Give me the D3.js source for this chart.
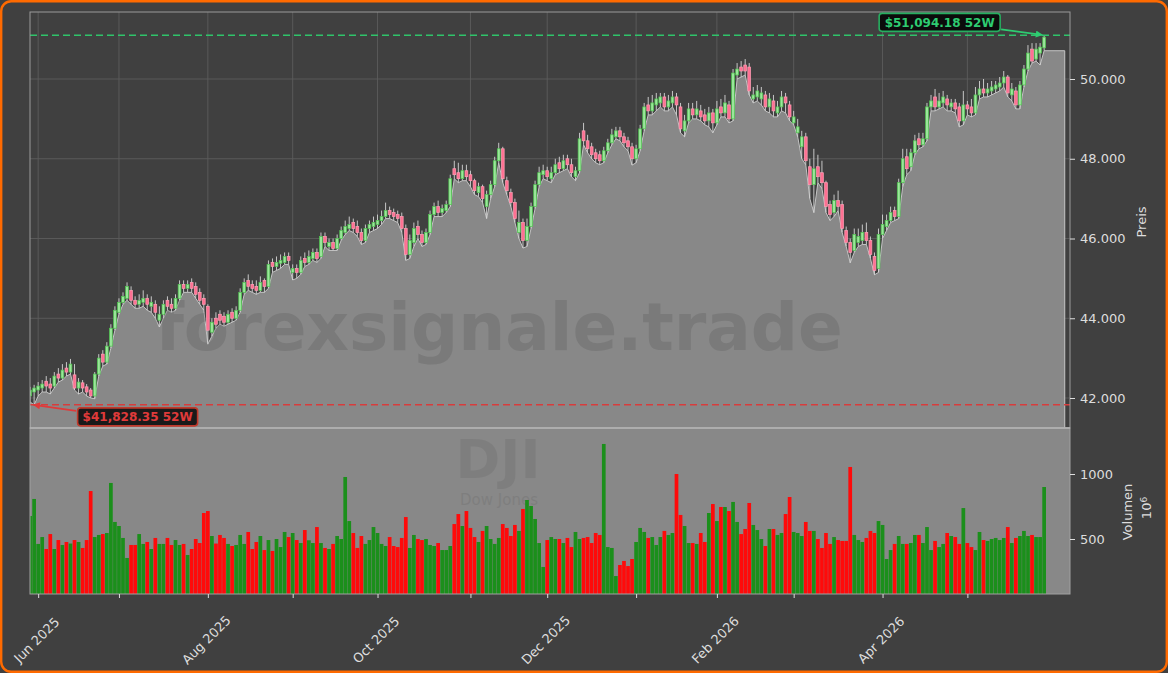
<!DOCTYPE html>
<html><head><meta charset="utf-8">
<script src="https://cdn.jsdelivr.net/npm/d3@7"></script>
<style>
body{margin:0;background:#404040;}
svg text{font-family:"DejaVu Sans",sans-serif;}
</style>
</head><body>
<svg id="c" width="1168" height="673"></svg>
<script>
// ---------------- DATA ----------------
const opens=[42050,42150,42200,42250,42420,42350,42300,42600,42500,42750,42650,42580,42250,42380,42280,42200,42050,42600,43100,42900,
43300,43750,44150,44400,44500,44700,44450,44350,44400,44500,44300,44350,43950,44100,44450,44350,44250,44500,44850,44750,
44900,44800,44650,44500,44300,43650,44000,44100,44050,43900,44150,44000,44200,44650,44950,44850,44800,44700,44950,44800,
45400,45300,45380,45400,45550,45150,45250,45150,45500,45400,45500,45650,45550,46050,45800,45900,45750,46000,46150,46250,
46400,46300,46150,45950,46250,46300,46350,46450,46550,46700,46650,46600,46550,46250,45600,45900,46300,46100,45900,46150,
46600,46800,46650,46700,46850,47750,47650,47500,47700,47600,47450,47150,47300,46800,47100,47350,47950,48250,47450,47150,
46900,46150,46400,45950,46300,46800,47350,47600,47700,47500,47650,47900,47750,48000,47850,47550,47700,48700,48450,48300,
48150,48100,47950,48200,48400,48550,48700,48550,48450,48300,48000,48250,48750,49350,49200,49350,49400,49550,49300,49400,
49550,49300,48700,48950,49250,49100,49200,49100,48950,49150,48900,49300,49150,49350,49000,50100,50300,50350,50300,49500,
49550,49500,49600,49300,49450,49150,49300,49550,49350,48900,48650,48300,48550,47800,47350,47800,47650,47400,46850,46650,
46950,46850,46200,45900,45700,45900,45950,46150,45950,45550,45250,46100,46300,46450,46700,46550,47400,48050,47800,48150,
48500,48350,48500,49300,49550,49300,49400,49500,49300,49400,49300,48950,49350,49300,49150,49600,49750,49650,49700,49750,
49800,49900,50050,49600,49700,49350,49850,50250,50750,50500,50650,50780];
const highs=[42280,42330,42400,42450,42550,42500,42650,42750,42850,42900,42980,42850,42500,42450,42350,42250,42650,43100,43200,43400,
43850,44300,44500,44650,44900,44800,44550,44600,44700,44600,44550,44450,44300,44450,44550,44500,44600,44950,44950,44950,
45000,44900,44750,44600,44350,44000,44150,44200,44150,44200,44250,44300,44750,45000,45100,44950,44950,45050,45000,45450,
45500,45550,45600,45650,45650,45350,45350,45550,45650,45700,45750,45750,46150,46150,46000,46000,46100,46300,46450,46550,
46500,46450,46250,46350,46450,46550,46600,46700,46900,46800,46750,46700,46650,46350,46100,46400,46450,46200,46250,46700,
46900,46950,46850,46950,47600,47950,47900,47850,47850,47700,47500,47400,47350,47200,47450,48050,48400,48300,47550,47250,
47000,46700,46500,46500,46900,47450,47800,47850,47800,47800,48000,48050,48100,48100,48000,47800,48650,48900,48600,48400,
48250,48200,48300,48500,48750,48800,48800,48650,48550,48400,48350,48850,49400,49550,49600,49650,49650,49650,49600,49700,
49650,49400,49100,49400,49400,49450,49350,49250,49300,49250,49450,49500,49600,49450,50250,50400,50450,50500,50400,49800,
49850,49800,49700,49650,49600,49450,49700,49650,49450,49200,49000,48700,48650,48000,48250,48100,47950,47450,46950,47100,
47200,46950,46300,46000,46250,46250,46350,46400,46050,45650,46250,46600,46600,46800,46800,47500,48250,48250,48250,48600,
48650,48650,49400,49600,49750,49650,49700,49600,49500,49500,49400,49700,49450,49500,49800,49950,50000,49900,49950,49950,
50050,50200,50100,49900,49800,49950,50350,50850,50900,50900,50900,51094.18];
const lows=[41900,41828.35,42050,42150,42150,42100,42250,42400,42450,42550,42600,42200,42100,42150,42050,42000,41980,42550,42800,42850,
43250,43700,44100,44350,44450,44350,44250,44250,44300,44200,44150,44000,43780,44000,44200,44150,44200,44450,44650,44650,
44650,44500,44350,44200,43350,43550,43750,43850,43800,43850,43900,43950,44150,44600,44700,44650,44600,44650,44650,44750,
45150,45200,45250,45350,45350,44960,45000,45100,45300,45350,45450,45400,45500,45800,45700,45700,45700,45950,46100,46200,
46150,46050,45850,45900,46150,46200,46250,46350,46500,46500,46450,46400,46150,45450,45500,45800,46000,45800,45850,46100,
46550,46550,46550,46650,46800,47500,47400,47450,47450,47300,47100,47050,46900,46500,47000,47300,47900,47400,47100,46800,
46400,46000,45760,45800,46250,46750,47300,47500,47450,47400,47600,47650,47700,47750,47550,47450,47650,48350,48150,48000,
47900,47850,47900,48150,48350,48500,48450,48300,48200,47840,47900,48200,48700,49100,49100,49200,49300,49200,49200,49300,
49100,48650,48550,48900,49000,49000,48950,48850,48800,48650,48850,49050,49050,48900,48950,50000,50050,50100,49600,49400,
49450,49350,49200,49150,49050,49050,49200,49150,48950,48850,48550,48000,47850,47000,46650,47400,47250,46650,46450,46550,
46700,46150,45800,45390,45650,45800,45850,45850,45500,45090,45150,46000,46200,46400,46450,46500,47300,47600,47700,48100,
48250,48300,48450,49200,49200,49250,49300,49200,49200,49150,48800,48850,49100,49050,49100,49500,49550,49550,49600,49650,
49700,49800,49550,49450,49250,49250,49800,50200,50400,50450,50350,50709];
const closes=[42200,42250,42300,42350,42300,42250,42550,42500,42700,42650,42850,42250,42400,42250,42150,42050,42600,43000,42900,43300,
43750,44200,44400,44550,44800,44450,44350,44450,44500,44350,44400,44150,44100,44350,44300,44250,44500,44850,44750,44850,
44750,44600,44450,44350,43700,43900,43850,43950,43900,44100,44000,44200,44650,44900,44800,44750,44700,44900,44800,45350,
45300,45400,45450,45550,45450,45250,45150,45450,45400,45550,45650,45500,46050,45900,45900,45750,46000,46200,46300,46350,
46250,46150,45950,46250,46350,46400,46450,46550,46700,46600,46550,46500,46250,45600,45950,46250,46100,45900,46150,46600,
46800,46650,46750,46850,47500,47600,47500,47700,47550,47450,47200,47300,47000,47100,47350,47950,48250,47500,47200,46900,
46500,46400,45950,46300,46800,47350,47650,47700,47550,47650,47850,47750,47950,47850,47650,47700,48500,48450,48250,48100,
48000,47950,48200,48400,48600,48700,48550,48400,48300,48000,48250,48750,49300,49200,49400,49500,49550,49300,49450,49550,
49350,48750,48950,49250,49100,49250,49050,48950,49150,48900,49250,49150,49400,49000,50150,50250,50200,50200,49700,49600,
49700,49650,49300,49500,49200,49300,49550,49400,49050,49050,48800,48550,47950,47350,47750,47550,47400,46800,46600,46950,
46800,46250,45900,45650,46100,46050,46150,45950,45600,45200,46100,46350,46450,46650,46550,47400,48000,47750,48150,48450,
48350,48500,49300,49450,49300,49450,49550,49350,49400,49250,48950,49350,49250,49150,49600,49750,49650,49750,49800,49850,
49900,50050,49650,49750,49350,49850,50250,50650,50450,50750,50800,51050];
// volume in millions (10^6)
const volumes=[677,808,462,515,423,538,423,492,454,477,465,492,477,431,492,869,515,531,538,546,
931,631,600,508,354,454,454,538,462,477,423,508,462,462,508,454,492,454,462,377,
423,500,469,700,715,523,465,531,508,462,446,454,531,462,554,423,477,523,415,492,
408,500,438,554,515,546,492,469,569,490,469,592,469,431,423,462,523,500,977,638,
546,431,523,462,492,592,546,462,446,515,446,438,508,669,431,531,500,492,500,454,
446,469,415,415,446,615,692,600,715,585,515,477,562,600,500,462,508,615,585,523,
608,562,731,800,754,654,469,285,492,515,500,500,469,508,438,554,500,508,515,469,
546,531,1231,438,431,215,300,331,292,346,477,585,554,508,515,454,515,562,531,546,
1000,685,600,469,469,462,546,477,700,769,638,746,746,715,785,631,538,577,777,608,
569,500,446,577,577,531,546,692,823,554,546,523,631,562,562,500,431,546,462,515,
492,485,485,1054,531,492,477,508,562,546,638,608,346,415,462,523,462,462,469,531,
531,469,592,415,485,438,462,546,523,515,462,738,469,438,415,554,492,485,500,508,
492,508,592,469,508,523,562,523,531,515,515,900];
const startDate="2025-05-29";
const holidays=["2025-06-19","2025-07-04","2025-09-01","2025-11-27","2025-12-25","2026-01-01","2026-01-19","2026-02-16","2026-04-03","2026-05-25"];
const priceTicks=[42000,44000,46000,48000,50000];
const volumeTicks=[500,1000];
const high52={value:51094.18,label:"$51,094.18 52W"};
const low52={value:41828.35,label:"$41,828.35 52W"};
const watermark="forexsignale.trade";
const symbol="DJI", symbolName="Dow Jones";

// ---------------- LAYOUT ----------------
const W=1168,H=673;
const L=30,R=1070,PT=12,PB=428,VT=428,VB=594;
const n=closes.length;
const svg=d3.select("#c");

// trading dates
const dates=[];
{let d=new Date(startDate+"T00:00:00Z");
 while(dates.length<n){const s=d.toISOString().slice(0,10);const w=d.getUTCDay();
  if(w!==0&&w!==6&&!holidays.includes(s))dates.push(new Date(d));
  d.setUTCDate(d.getUTCDate()+1);}}

const x=d3.scaleLinear().domain([-0.02,257.4]).range([L,R]);
const y=d3.scaleLinear().domain([42000,50000]).range([398,79]);
const yv=d3.scaleLinear().domain([500,1000]).range([539,474]);

// background + border
svg.append("rect").attr("x",1.2).attr("y",1.2).attr("width",W-2.4).attr("height",H-2.4)
  .attr("rx",10).attr("fill","#404040").attr("stroke","#ff6a00").attr("stroke-width",2.4);

const defs=svg.append("defs");
defs.append("clipPath").attr("id","cp").append("rect").attr("x",L).attr("y",PT).attr("width",R-L).attr("height",PB-PT);
defs.append("clipPath").attr("id","cv").append("rect").attr("x",L).attr("y",VT).attr("width",R-L).attr("height",VB-VT);
const mk=(id,col)=>defs.append("marker").attr("id",id).attr("viewBox","0 0 10 10").attr("refX",9).attr("refY",5)
  .attr("markerWidth",9).attr("markerHeight",7).attr("markerUnits","userSpaceOnUse").attr("orient","auto")
  .append("path").attr("d","M0,0L10,5L0,10z").attr("fill",col);
mk("ag","#2ecc71");mk("ar","#e03a3a");

// month ticks
const monthIdx=[];
for(let i=1;i<n;i++){if(dates[i].getUTCMonth()!==dates[i-1].getUTCMonth())monthIdx.push(i);}
const fmtM=d3.utcFormat("%b %Y");

// ---------- price panel ----------
const gp=svg.append("g").attr("clip-path","url(#cp)");
gp.selectAll(".hg").data(priceTicks).join("line").attr("x1",L).attr("x2",R)
  .attr("y1",d=>y(d)).attr("y2",d=>y(d)).attr("stroke","#5c5c5c").attr("stroke-width",0.9);
gp.selectAll(".vg").data(monthIdx).join("line").attr("x1",d=>x(d)).attr("x2",d=>x(d))
  .attr("y1",PT).attr("y2",PB).attr("stroke","#5c5c5c").attr("stroke-width",0.9);

const areaData=lows.map((v,i)=>({i,v}));
areaData.push({i:256.1,v:lows[n-1]});
gp.append("path").datum(areaData)
  .attr("d",d3.area().x(d=>x(d.i)).y0(PB+2).y1(d=>y(d.v)))
  .attr("fill","#888888").attr("stroke","#c4c4c4").attr("stroke-width",1);

gp.append("text").attr("x",499).attr("y",350).attr("text-anchor","middle")
  .attr("font-size",66).attr("font-weight","bold").attr("fill","#505050").attr("opacity",0.24).text(watermark);

const idx=d3.range(n);
gp.selectAll(".wk").data(idx).join("line")
  .attr("x1",i=>x(i)).attr("x2",i=>x(i)).attr("y1",i=>y(highs[i])).attr("y2",i=>y(lows[i]))
  .attr("stroke","#d6d6d6").attr("stroke-width",0.9);
gp.selectAll(".bd").data(idx).join("rect")
  .attr("x",i=>x(i)-1.4).attr("width",2.8)
  .attr("y",i=>y(Math.max(opens[i],closes[i])))
  .attr("height",i=>Math.max(0.8,Math.abs(y(opens[i])-y(closes[i]))))
  .attr("fill",i=>closes[i]>=opens[i]?"#9be69b":"#ff7092")
  .attr("stroke",i=>closes[i]>=opens[i]?"#4fc44f":"#ff9fb5").attr("stroke-width",0.7);

// 52W lines
gp.append("line").attr("x1",L).attr("x2",R).attr("y1",y(high52.value)).attr("y2",y(high52.value))
  .attr("stroke","#2fc46a").attr("stroke-width",1.5).attr("stroke-dasharray","7,4");
gp.append("line").attr("x1",L).attr("x2",R).attr("y1",y(low52.value)).attr("y2",y(low52.value))
  .attr("stroke","#d83c3c").attr("stroke-width",1.5).attr("stroke-dasharray","7,4");

// ---------- volume panel ----------
svg.append("rect").attr("x",L).attr("y",VT).attr("width",R-L).attr("height",VB-VT).attr("fill","#888888");
const gv=svg.append("g").attr("clip-path","url(#cv)");
gv.append("text").attr("x",498).attr("y",478).attr("text-anchor","middle").attr("font-size",54)
  .attr("font-weight","bold").attr("fill","#505050").attr("opacity",0.16).text(symbol);
gv.append("text").attr("x",499).attr("y",505).attr("text-anchor","middle").attr("font-size",15)
  .attr("fill","#505050").attr("opacity",0.16).text(symbolName);
gv.selectAll(".vb").data(idx).join("rect")
  .attr("x",i=>x(i)-1.85).attr("width",3.7)
  .attr("y",i=>yv(volumes[i])).attr("height",i=>VB-yv(volumes[i]))
  .attr("fill",i=>closes[i]>=opens[i]?"#1b8f1b":"#ff0a0a");

// spines
svg.append("rect").attr("x",L).attr("y",PT).attr("width",R-L).attr("height",PB-PT)
  .attr("fill","none").attr("stroke","#9a9a9a").attr("stroke-width",1);
svg.append("rect").attr("x",L).attr("y",VT).attr("width",R-L).attr("height",VB-VT)
  .attr("fill","none").attr("stroke","#a0a0a0").attr("stroke-width",1);
svg.append("line").attr("x1",L).attr("x2",R).attr("y1",PB).attr("y2",PB).attr("stroke","#b4b4b4").attr("stroke-width",1.6);

// annotations
{
 const tx=x(n-1), ty=y(high52.value);
 const g=svg.append("g");
 g.append("rect").attr("x",tx-165).attr("y",ty-22).attr("width",121).attr("height",18).attr("rx",3)
  .attr("fill","#0b0b0b").attr("stroke","#27ae60").attr("stroke-width",1.6);
 g.append("text").attr("x",tx-104.5).attr("y",ty-13).attr("dy","0.35em").attr("text-anchor","middle")
  .attr("font-size",12).attr("font-weight","bold").attr("fill","#2ecc71").text(high52.label);
 g.append("line").attr("x1",tx-43).attr("y1",ty-6).attr("x2",tx-2).attr("y2",ty-0.5)
  .attr("stroke","#2ecc71").attr("stroke-width",1.6).attr("marker-end","url(#ag)");
}
{
 const li=lows.indexOf(low52.value);
 const tx=x(li), ty=y(low52.value);
 const g=svg.append("g");
 g.append("rect").attr("x",tx+43.5).attr("y",ty+3).attr("width",120).attr("height",18).attr("rx",3)
  .attr("fill","#1a1a1a").attr("stroke","#c0392b").attr("stroke-width",1.6);
 g.append("text").attr("x",tx+103.5).attr("y",ty+12).attr("dy","0.35em").attr("text-anchor","middle")
  .attr("font-size",12).attr("font-weight","bold").attr("fill","#e03a3a").text(low52.label);
 g.append("line").attr("x1",tx+42).attr("y1",ty+6).attr("x2",tx-0.5).attr("y2",ty)
  .attr("stroke","#e03a3a").attr("stroke-width",1.6).attr("marker-end","url(#ar)");
}

// axes
const styleAxis=g=>{g.select(".domain").remove();g.selectAll("line").attr("stroke","#dddddd");
  g.selectAll("text").attr("fill","#dddddd").attr("font-size",13).attr("font-family","DejaVu Sans, sans-serif");};
const fmtP=d=>d3.format(",")(d).replace(/,/g,".");
svg.append("g").attr("transform",`translate(${R},0)`)
  .call(d3.axisRight(y).tickValues(priceTicks).tickFormat(fmtP).tickSize(5).tickPadding(5)).call(styleAxis);
svg.append("g").attr("transform",`translate(${R},0)`)
  .call(d3.axisRight(yv).tickValues(volumeTicks).tickFormat(d3.format("d")).tickSize(5).tickPadding(5)).call(styleAxis);
const gx=svg.append("g").attr("transform",`translate(0,${VB})`)
  .call(d3.axisBottom(x).tickValues(monthIdx).tickSize(4)
    .tickFormat(i=>dates[i].getUTCMonth()%2===1?fmtM(dates[i]):"")).call(styleAxis);
gx.selectAll("text").attr("y",0).attr("x",0).attr("dy","0.35em").attr("text-anchor","middle")
  .attr("transform","translate(-2,46) rotate(-45)");

// axis titles
svg.append("text").attr("transform","translate(1146,222) rotate(-90)").attr("text-anchor","middle")
  .attr("font-size",13).attr("fill","#dddddd").text("Preis");
svg.append("text").attr("transform","translate(1132,512) rotate(-90)").attr("text-anchor","middle")
  .attr("font-size",13).attr("fill","#dddddd").text("Volumen");
const t6=svg.append("text").attr("transform","translate(1151,508) rotate(-90)").attr("text-anchor","middle")
  .attr("font-size",13).attr("fill","#dddddd");
t6.append("tspan").text("10");
t6.append("tspan").attr("dy","-0.5em").attr("font-size",9).text("6");
</script>
</body></html>
